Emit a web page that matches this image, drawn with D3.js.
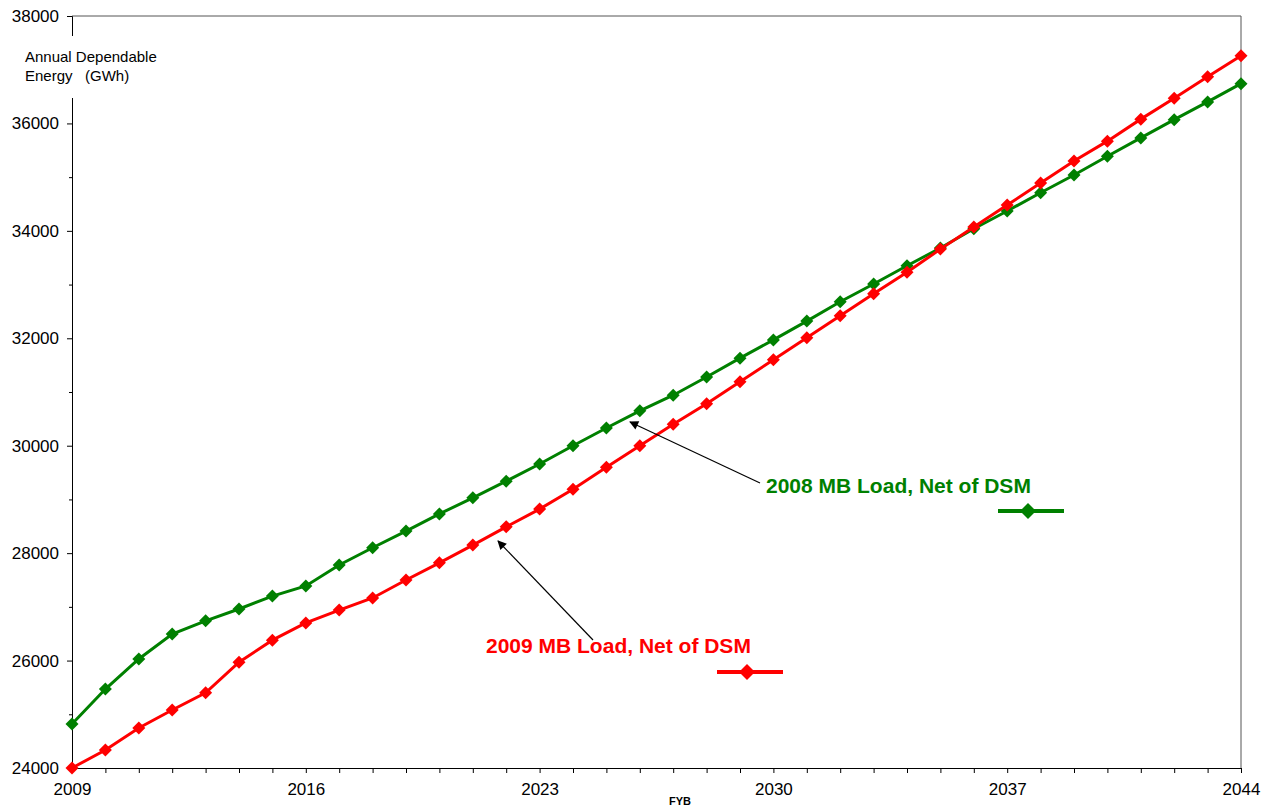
<!DOCTYPE html>
<html>
<head>
<meta charset="utf-8">
<script src="https://cdn.jsdelivr.net/npm/d3@7"></script>
<style>
body{margin:0;background:#fff;}
text{font-family:Arial,"Liberation Sans",sans-serif;}
</style>
</head>
<body>
<div id="chart"></div>
<script>
// years on the x axis
var years = d3.range(2009, 2045)
var xLabels = [2009, 2016, 2023, 2030, 2037, 2044]
var yLabels = [24000, 26000, 28000, 30000, 32000, 34000, 36000, 38000]

// 2008 MB Load, Net of DSM
var load2008 = [24820, 25470, 26030, 26495, 26740, 26960, 27200, 27390, 27780, 28100,
    28410, 28730, 29030, 29340, 29660, 30000, 30330, 30650, 30940, 31280,
    31630, 31970, 32320, 32680, 33010, 33350, 33680, 34040, 34370, 34710,
    35040, 35390, 35730, 36070, 36400, 36740]
// 2009 MB Load, Net of DSM
var load2009 = [24000, 24335, 24745, 25080, 25400, 25970, 26380, 26700, 26940, 27165,
    27500, 27820, 28150, 28490, 28820, 29190, 29600, 30000, 30400, 30780,
    31190, 31600, 32010, 32420, 32830, 33230, 33660, 34070, 34480, 34890,
    35300, 35670, 36080, 36470, 36870, 37260]

var width = 1268, height = 807
var pL = 72, pR = 1241, pT = 16, pB = 768

var svg = d3.select("#chart").append("svg")
    .attr("width", width)
    .attr("height", height)

var x = d3.scaleLinear().domain([2009, 2044]).range([pL, pR])
var y = d3.scaleLinear().domain([24000, 38000]).range([pB, pT])

// arrow marker
svg.append("defs").append("marker")
    .attr("id", "arr")
    .attr("viewBox", "0 0 10 10")
    .attr("refX", 9).attr("refY", 5)
    .attr("markerWidth", 10).attr("markerHeight", 9)
    .attr("markerUnits", "userSpaceOnUse")
    .attr("orient", "auto")
    .append("path")
    .attr("d", "M0,0 L10,5 L0,10 z")
    .attr("fill", "black")

// top & right border
svg.append("path")
    .attr("d", "M" + pL + "," + pT + "H" + pR + "V" + pB)
    .attr("fill", "none")
    .attr("stroke", "#555")
    .attr("stroke-width", 1)

// y axis
var yAxis = svg.append("g")
    .attr("transform", "translate(" + pL + ",0)")
    .call(d3.axisLeft(y).tickValues(yLabels).tickSize(5).tickPadding(8).tickFormat(d3.format("d")))
yAxis.selectAll("text").style("font-size", "17px").attr("fill", "#000")
yAxis.select(".domain").attr("stroke", "#000")

var yMinor = svg.append("g")
    .attr("transform", "translate(" + pL + ",0)")
    .call(d3.axisLeft(y).tickValues(d3.range(25000, 38000, 2000)).tickSize(3).tickFormat(""))
yMinor.select(".domain").remove()

// x axis
var xAxis = svg.append("g")
    .attr("transform", "translate(0," + pB + ")")
    .call(d3.axisBottom(x).tickValues(years).tickSize(5).tickPadding(10)
        .tickFormat(d => xLabels.indexOf(d) >= 0 ? d : ""))
xAxis.selectAll("text").style("font-size", "17px").attr("fill", "#000")
xAxis.select(".domain").attr("stroke", "#000")

svg.append("text")
    .attr("x", 680).attr("y", 805)
    .attr("text-anchor", "middle")
    .style("font-size", "11px").style("font-weight", "bold")
    .text("FYB")

// y axis label with white background
svg.append("rect")
    .attr("x", 22).attr("y", 36).attr("width", 140).attr("height", 62)
    .attr("fill", "white")
svg.append("text")
    .attr("x", 25).attr("y", 62)
    .style("font-size", "15px")
    .text("Annual Dependable")
svg.append("text")
    .attr("x", 25).attr("y", 81)
    .style("font-size", "15px")
    .attr("xml:space", "preserve")
    .text("Energy   (GWh)")

// series
var series = [
    {name: "2008 MB Load, Net of DSM", values: load2008, color: "#008000"},
    {name: "2009 MB Load, Net of DSM", values: load2009, color: "#ff0000"}
]

var line = d3.line()
    .x((d, i) => x(years[i]))
    .y(d => y(d))

function diamond(r) {
    return "M0," + (-r) + "L" + r + ",0L0," + r + "L" + (-r) + ",0Z"
}

series.forEach(s => {
    svg.append("path")
        .datum(s.values)
        .attr("d", line)
        .attr("fill", "none")
        .attr("stroke", s.color)
        .attr("stroke-width", 3)
    svg.selectAll(null)
        .data(s.values)
        .enter()
        .append("path")
        .attr("d", diamond(6.5))
        .attr("transform", (d, i) => "translate(" + x(years[i]) + "," + y(d) + ")")
        .attr("fill", s.color)
})

// annotations
var notes = [
    {s: series[0], tx: 766, ty: 493, ax1: 760, ay1: 483, ax2: 630, ay2: 422, lx: 998, ly: 511},
    {s: series[1], tx: 486, ty: 653, ax1: 593, ay1: 640, ax2: 498, ay2: 541, lx: 717, ly: 672}
]
notes.forEach(n => {
    svg.append("line")
        .attr("x1", n.ax1).attr("y1", n.ay1)
        .attr("x2", n.ax2).attr("y2", n.ay2)
        .attr("stroke", "black")
        .attr("stroke-width", 1.2)
        .attr("marker-end", "url(#arr)")
    svg.append("text")
        .attr("x", n.tx).attr("y", n.ty)
        .attr("fill", n.s.color)
        .style("font-size", "21px").style("font-weight", "bold")
        .text(n.s.name)
    svg.append("line")
        .attr("x1", n.lx).attr("y1", n.ly)
        .attr("x2", n.lx + 66).attr("y2", n.ly)
        .attr("stroke", n.s.color)
        .attr("stroke-width", 4)
    svg.append("path")
        .attr("d", diamond(8))
        .attr("transform", "translate(" + (n.lx + 30) + "," + n.ly + ")")
        .attr("fill", n.s.color)
})
</script>
</body>
</html>
